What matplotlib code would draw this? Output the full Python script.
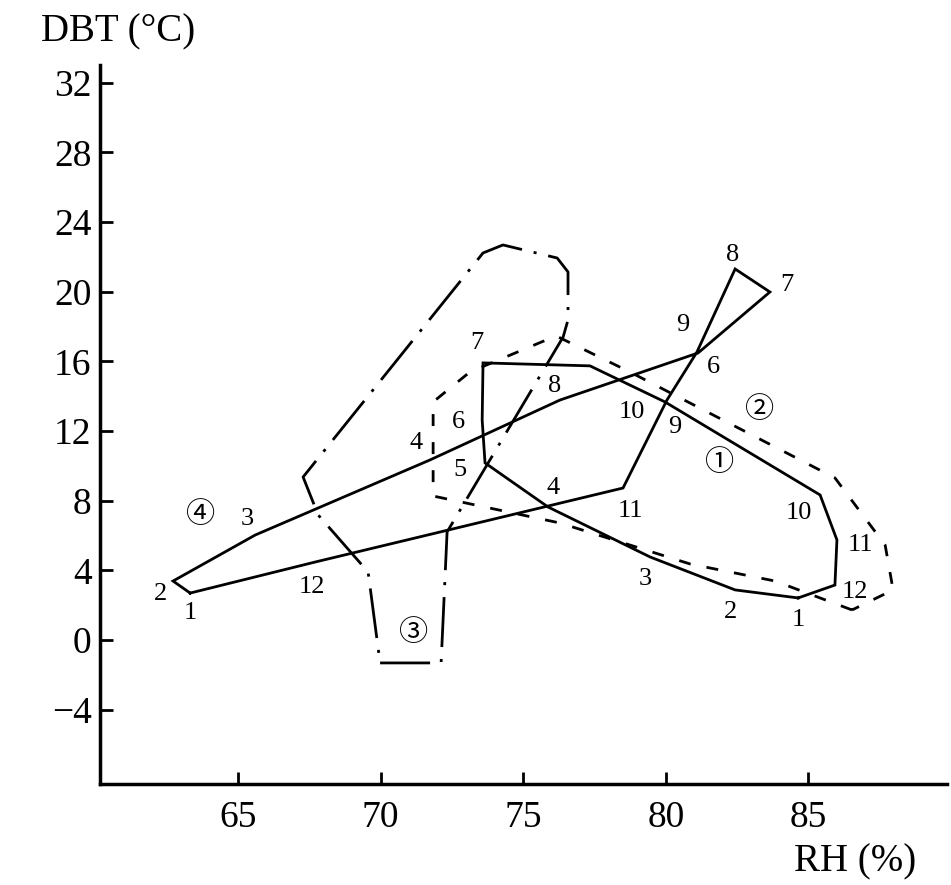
import matplotlib
matplotlib.use('Agg')
from matplotlib import pyplot as plt

plt.rcParams['font.family'] = ['Liberation Serif', 'Noto Sans CJK SC', 'DejaVu Sans']

# Monthly means, months 1..12 : relative humidity (%) and dry bulb temperature (deg C)
# Loop 1 (solid)
rh_1 = [84.64, 82.43, 79.45, 75.87, 73.66, 73.56, 73.59, 77.34, 79.97, 85.41, 86.0, 85.93]
dbt_1 = [2.42, 2.88, 4.77, 7.64, 10.17, 12.63, 15.91, 15.74, 13.67, 8.33, 5.75, 3.16]

# Loop 2 (dashed)
rh_2 = [86.53, 83.83, 80.85, 76.29, 71.84, 71.84, 73.13, 76.15, 78.74, 85.93, 87.69, 87.97]
dbt_2 = [1.73, 3.39, 4.37, 6.72, 8.27, 13.67, 15.39, 17.46, 15.39, 9.31, 5.46, 2.88]

# Loop 3 (dash-dot)
rh_3 = [69.98, 72.12, 72.33, 76.40, 76.57, 76.57, 76.19, 74.29, 73.59, 67.28, 67.81, 69.56]
dbt_3 = [-1.31, -1.31, 6.21, 17.40, 18.38, 21.13, 21.93, 22.68, 22.22, 9.36, 7.18, 3.91]

# Loop 4 (solid)
rh_4 = [63.32, 62.72, 65.60, 71.73, 76.29, 81.13, 83.65, 82.43, 81.09, 80.04, 78.50, 67.70]
dbt_4 = [2.70, 3.39, 6.03, 10.34, 13.78, 16.48, 19.98, 21.30, 16.53, 13.78, 8.73, 4.48]

months = ['1', '2', '3', '4', '5', '6', '7', '8', '9', '10', '11', '12']

# where the month numbers sit, offset from the point in pixels (None = not labelled)
offs_1 = [(0, -22), (-5, -22), (-5, -22), (5, 19), (-25, -7), (-24, -2),
          (-6, 20), (-35, -20), (10, -25), (-21, -18), (23, -5), (20, -7)]
offs_4 = [(0, -20), (-13, -13), (-8, 16), (-14, 17), None, (15, -14),
          (17, 7), (-2, 14), (-14, 27), (-35, -12), (7, -23), (-3, -25)]

# circled loop names (RH, DBT)
loop_names = ['\u2460', '\u2461', '\u2462', '\u2463']
loop_name_pos = [(81.87, 10.17), (83.3, 13.2), (71.17, 0.41), (63.67, 7.18)]

fig = plt.figure(figsize=(9.51, 8.85), dpi=100)
ax = fig.add_axes([0.1052, 0.1141, 0.8906, 0.8125])


def closed(vals):
    return list(vals) + [vals[0]]


lw = 2.0
ax.plot(closed(rh_1), closed(dbt_1), color='black', lw=lw, solid_joinstyle='miter')
ax.plot(closed(rh_2), closed(dbt_2), color='black', lw=lw, linestyle=(0, (4.3, 5.8)))
ax.plot(closed(rh_3), closed(dbt_3), color='black', lw=lw, linestyle=(0, (18, 4.3, 1.1, 4.3)))
ax.plot(closed(rh_4), closed(dbt_4), color='black', lw=lw, solid_joinstyle='miter')

for rh, dbt, offs in [(rh_1, dbt_1, offs_1), (rh_4, dbt_4, offs_4)]:
    for i in range(len(months)):
        if offs[i] is None:
            continue
        ax.annotate(months[i], (rh[i], dbt[i]), xytext=offs[i], textcoords='offset pixels',
                    ha='center', va='center', fontsize=19)

for name, pos in zip(loop_names, loop_name_pos):
    ax.text(pos[0], pos[1], name, ha='center', va='center', fontsize=21,
            family=['Noto Sans CJK SC', 'DejaVu Sans'])

ax.set_xlim(60.16, 89.86)
ax.set_ylim(-8.26, 33.01)
ax.set_xticks([65, 70, 75, 80, 85])
ax.set_yticks([-4, 0, 4, 8, 12, 16, 20, 24, 28, 32])
ax.spines['top'].set_visible(False)
ax.spines['right'].set_visible(False)
ax.spines['left'].set_linewidth(2.5)
ax.spines['bottom'].set_linewidth(2.5)
ax.tick_params(direction='in', length=9, width=2, labelsize=27)
ax.tick_params(axis='x', pad=12)
ax.tick_params(axis='y', pad=6)

fig.text(118 / 951, 1 - 32 / 885, 'DBT (\u00b0C)', ha='center', va='center', fontsize=28)
fig.text(855 / 951, 1 - 862 / 885, 'RH (%)', ha='center', va='center', fontsize=28)

fig.savefig('out.png', dpi=100)
